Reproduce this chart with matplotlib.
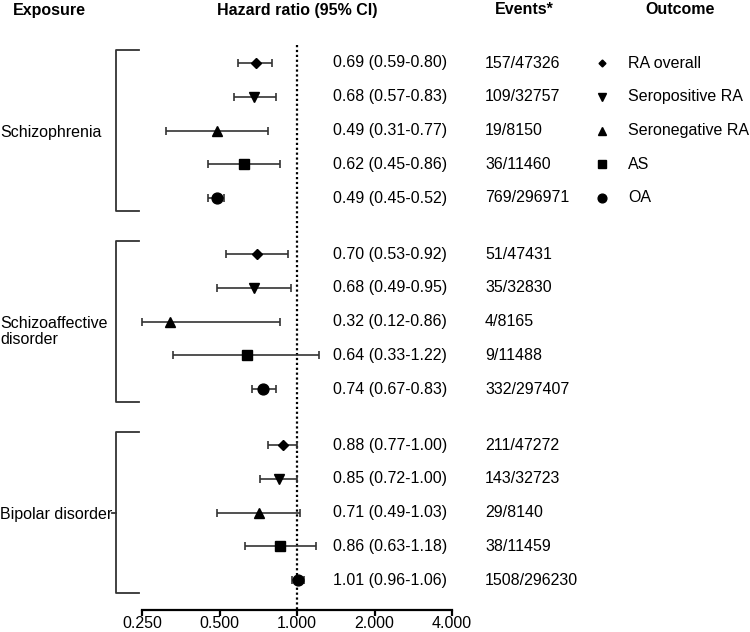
import numpy as np
import matplotlib.pyplot as plt
from matplotlib.transforms import blended_transform_factory

plt.rcParams['font.family'] = ['Liberation Sans', 'DejaVu Sans']

exposures = ['Schizophrenia', 'Schizoaffective\ndisorder', 'Bipolar disorder']
outcomes = ['RA overall', 'Seropositive RA', 'Seronegative RA', 'AS', 'OA']
markers = ['D', 'v', '^', 's', 'o']
msizes = [5, 7.2, 7.2, 7.2, 7.8]

hr = [[0.69, 0.68, 0.49, 0.62, 0.49],
      [0.70, 0.68, 0.32, 0.64, 0.74],
      [0.88, 0.85, 0.71, 0.86, 1.01]]
lo = [[0.59, 0.57, 0.31, 0.45, 0.45],
      [0.53, 0.49, 0.12, 0.33, 0.67],
      [0.77, 0.72, 0.49, 0.63, 0.96]]
hi = [[0.80, 0.83, 0.77, 0.86, 0.52],
      [0.92, 0.95, 0.86, 1.22, 0.83],
      [1.00, 1.00, 1.03, 1.18, 1.06]]
events = [['157/47326', '109/32757', '19/8150', '36/11460', '769/296971'],
          ['51/47431', '35/32830', '4/8165', '9/11488', '332/297407'],
          ['211/47272', '143/32723', '29/8140', '38/11459', '1508/296230']]

xticks = [0.25, 0.5, 1, 2, 4]
xmin, xmax = 0.25, 4

W, H = 750, 632
fig = plt.figure(figsize=(7.5, 6.32), dpi=100)
ax_l, ax_r, ax_b, ax_t = 142, 452, 610, 40
ax = fig.add_axes([ax_l / W, 1 - ax_b / H, (ax_r - ax_l) / W, (ax_b - ax_t) / H])

row_px, first_px = 33.75, 63
group_gap = 5.66

def axx(px):
    # pixel x -> axes fraction
    return (px - ax_l) / (ax_r - ax_l)

trans = blended_transform_factory(ax.transAxes, ax.transData)
fs = 11.5

for g in range(3):
    ys = g * group_gap + np.arange(5)
    for i in range(5):
        x = hr[g][i]
        l = max(lo[g][i], xmin)
        h = hi[g][i]
        ax.errorbar([x], [ys[i]], xerr=[[x - l], [h - x]], fmt=markers[i],
                    color='black', ms=msizes[i], ecolor='#333333', elinewidth=1.2,
                    capsize=3, capthick=1.2, clip_on=False, zorder=3)
        ax.text(axx(333), ys[i], '%.2f (%.2f-%.2f)' % (hr[g][i], lo[g][i], hi[g][i]),
                transform=trans, va='center', ha='left', fontsize=fs)
        ax.text(axx(485), ys[i], events[g][i], transform=trans,
                va='center', ha='left', fontsize=fs)
    # bracket
    top, bot = ys[0] - 0.38, ys[-1] + 0.38
    bx, bx2 = axx(116), axx(139)
    ax.plot([bx2, bx, bx, bx2], [top, top, bot, bot], transform=trans,
            color='#333333', lw=1.3, clip_on=False)
    if g == 2:
        ax.plot([axx(112), bx], [ys[2], ys[2]], transform=trans,
                color='#333333', lw=1.3, clip_on=False)
    ylab = ys[2] + (0.3 if '\n' in exposures[g] else 0.05)
    ax.text(axx(0), ylab, exposures[g], transform=trans, va='center', ha='left',
            fontsize=fs, linespacing=1.1)

# legend column
for i in range(5):
    ax.plot([axx(602)], [i], marker=markers[i], color='black', ms=msizes[i] - 1.5,
            transform=trans, clip_on=False, linestyle='none')
    ax.text(axx(628), i, outcomes[i], transform=trans, va='center', ha='left', fontsize=fs)

# reference line at HR = 1
ax.plot([1, 1], [(45 - first_px) / row_px, (ax_b - first_px) / row_px],
        color='black', lw=1.6, linestyle=(0, (1, 1.2)), zorder=1)

ax.set_xscale('log', base=2)
ax.set_xlim(xmin, xmax)
ax.set_ylim((ax_b - first_px) / row_px, (ax_t - first_px) / row_px)
ax.set_xticks(xticks)
ax.set_xticklabels(['%.3f' % t for t in xticks], fontsize=fs)
ax.xaxis.set_minor_locator(plt.NullLocator())
ax.set_yticks([])
for s in ['left', 'right', 'top']:
    ax.spines[s].set_visible(False)
ax.spines['bottom'].set_linewidth(1.6)
ax.tick_params(axis='x', direction='out', length=4, width=1.6, pad=0.5)
ax.patch.set_alpha(0)

# headers
hy = 1 - 10 / H
fig.text(13 / W, hy, 'Exposure', ha='left', va='center', fontsize=fs, fontweight='bold')
fig.text(297.5 / W, hy, 'Hazard ratio (95% CI)', ha='center', va='center', fontsize=fs, fontweight='bold')
fig.text(524 / W, hy, 'Events*', ha='center', va='center', fontsize=fs, fontweight='bold')
fig.text(680 / W, hy, 'Outcome', ha='center', va='center', fontsize=fs, fontweight='bold')

fig.savefig('out.png', dpi=100)
